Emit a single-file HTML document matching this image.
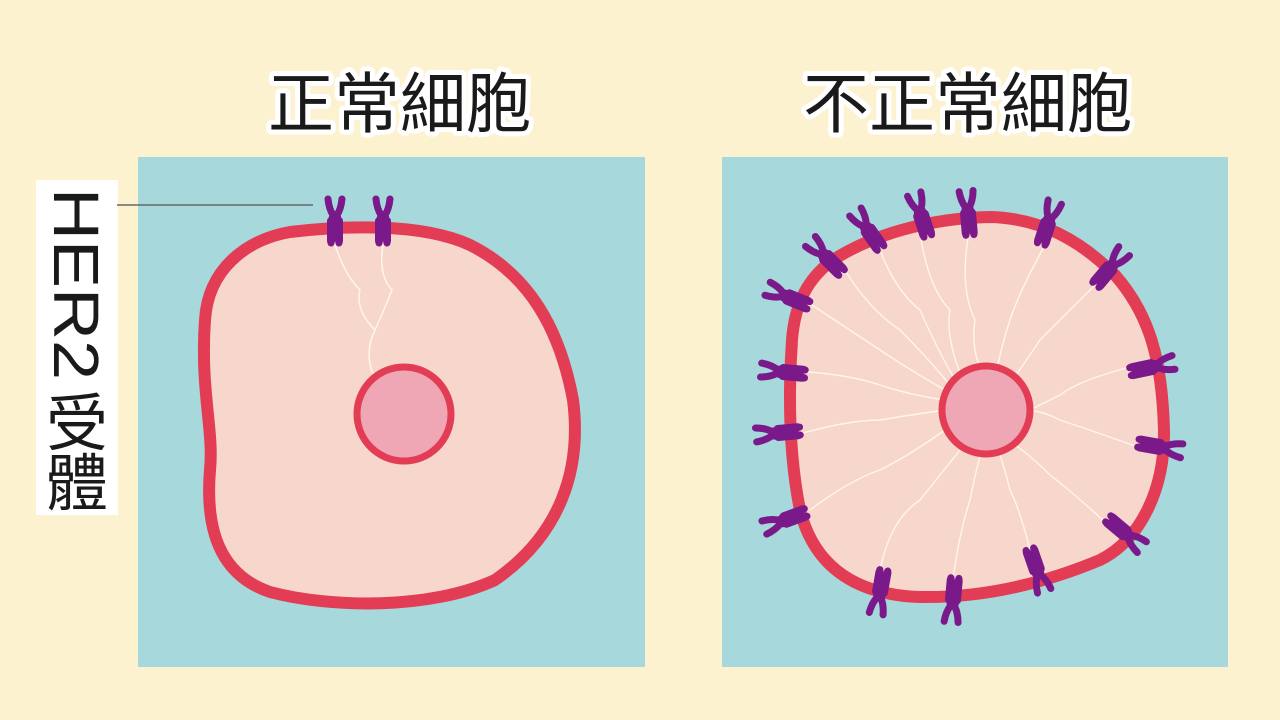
<!DOCTYPE html>
<html><head><meta charset="utf-8"><style>
html,body{margin:0;padding:0;background:#fcf2cf;}
svg{display:block}
.t{font-family:"Liberation Sans","Noto Sans CJK TC",sans-serif;fill:#1a1a1a;paint-order:stroke;stroke:#fff;stroke-width:10px;stroke-linejoin:round}
</style></head><body>
<svg width="1280" height="720" viewBox="0 0 1280 720" xmlns="http://www.w3.org/2000/svg">
<defs>
<g id="r">
<path d="M-7,-22 Q-6,-12 -2,-6 Q-5,4 -4,22" fill="none" stroke="#7a1a8a" stroke-width="7" stroke-linecap="round"/>
<path d="M7,-22 Q6,-12 2,-6 Q5,4 4,22" fill="none" stroke="#7a1a8a" stroke-width="7" stroke-linecap="round"/>
<path d="M-4,0 L-4,20 M4,0 L4,20" stroke="#7a1a8a" stroke-width="8" stroke-linecap="round"/>
</g>
</defs>
<rect width="1280" height="720" fill="#fcf2cf"/>
<rect x="138" y="157" width="507" height="510" fill="#a6d8dc"/>
<rect x="722" y="157" width="506" height="510" fill="#a6d8dc"/>
<text class="t" x="400" y="127" font-size="66" text-anchor="middle">正常細胞</text>
<text class="t" x="968" y="127" font-size="66" text-anchor="middle">不正常細胞</text>
<rect x="36" y="180" width="82" height="335" fill="#fff"/>
<text x="0" y="0" font-family="Liberation Sans,sans-serif" font-size="64" fill="#1a1a1a" textLength="192" lengthAdjust="spacingAndGlyphs" transform="translate(54,188) rotate(90)">HER2</text>
<text x="77" y="445" font-family="Liberation Sans,'Noto Sans CJK TC',sans-serif" font-size="62" fill="#1a1a1a" text-anchor="middle">受</text>
<text x="77" y="505" font-family="Liberation Sans,'Noto Sans CJK TC',sans-serif" font-size="62" fill="#1a1a1a" text-anchor="middle">體</text>
<line x1="117" y1="205" x2="313" y2="205" stroke="#666" stroke-width="1.5"/>
<path d="M290,232 C340,226 420,222 470,245 C530,275 560,330 573,400 C582,470 560,535 495,580 C430,610 330,608 270,592 C220,575 205,530 210,470 C214,430 200,390 205,320 C208,270 245,240 290,232 Z" fill="#f7d6cc" stroke="#e23d55" stroke-width="12"/>
<g fill="none" stroke="#fff6ea" stroke-width="1.5">
<path d="M335,245 Q345,275 360,290 Q355,310 375,330 Q365,350 372,372 Q385,385 390,395"/>
<path d="M383,245 Q378,275 392,290 Q382,315 375,330"/>
</g>
<circle cx="404" cy="414" r="47" fill="#efa7b6" stroke="#e23d55" stroke-width="7"/>
<use href="#r" transform="translate(335,221)"/>
<use href="#r" transform="translate(383,221)"/>
<path d="M830,262 C870,235 930,218 990,217 C1040,218 1080,240 1115,275 C1150,315 1162,360 1164,430 C1165,490 1140,540 1100,560 C1040,585 980,598 920,597 C860,595 815,570 800,510 C790,460 788,400 792,340 C795,300 810,278 830,262 Z" fill="#f7d6cc" stroke="#e23d55" stroke-width="12"/>
<g fill="none" stroke="#fff6ea" stroke-width="1.4">
<path d="M921,240 Q930,290 950,310 Q945,340 965,385"/>
<path d="M968,238 Q960,290 975,320 Q970,350 985,380"/>
<path d="M1045,245 Q1020,290 1010,320 Q1000,350 995,380"/>
<path d="M1095,285 Q1060,320 1040,340 Q1020,370 1005,390"/>
<path d="M1130,367 Q1080,380 1060,395 Q1040,405 1030,410"/>
<path d="M1138,447 Q1090,430 1060,420 Q1045,412 1030,410"/>
<path d="M1105,522 Q1070,490 1050,475 Q1030,455 1015,445"/>
<path d="M1030,550 Q1020,510 1010,490 Q1005,470 1000,455"/>
<path d="M953,578 Q960,530 970,500 Q975,475 980,456"/>
<path d="M880,570 Q890,520 920,500 Q940,475 960,450"/>
<path d="M810,510 Q850,480 880,470 Q910,455 945,430"/>
<path d="M803,433 Q850,420 880,420 Q910,415 945,410"/>
<path d="M808,372 Q850,375 880,385 Q910,395 945,400"/>
<path d="M812,305 Q850,330 880,350 Q910,370 945,390"/>
<path d="M846,272 Q870,310 900,330 Q925,355 950,385"/>
<path d="M880,250 Q895,290 920,310 Q935,345 955,380"/>
</g>
<circle cx="986" cy="410" r="44" fill="#efa7b6" stroke="#e23d55" stroke-width="7"/>
<use href="#r" transform="translate(921,215) rotate(-18)"/>
<use href="#r" transform="translate(968,213) rotate(-5)"/>
<use href="#r" transform="translate(1048,223) rotate(18)"/>
<use href="#r" transform="translate(1110,268) rotate(40)"/>
<use href="#r" transform="translate(1152,367) rotate(78)"/>
<use href="#r" transform="translate(1160,447) rotate(100)"/>
<use href="#r" transform="translate(1125,533) rotate(130)"/>
<use href="#r" transform="translate(1037,570) rotate(161)"/>
<use href="#r" transform="translate(953,600) rotate(-175)"/>
<use href="#r" transform="translate(880,592) rotate(-170)"/>
<use href="#r" transform="translate(785,520) rotate(-110)"/>
<use href="#r" transform="translate(778,433) rotate(-95)"/>
<use href="#r" transform="translate(783,372) rotate(-85)"/>
<use href="#r" transform="translate(788,297) rotate(-68)"/>
<use href="#r" transform="translate(826,257) rotate(-45)"/>
<use href="#r" transform="translate(868,230) rotate(-35)"/>
</svg>
</body></html>
